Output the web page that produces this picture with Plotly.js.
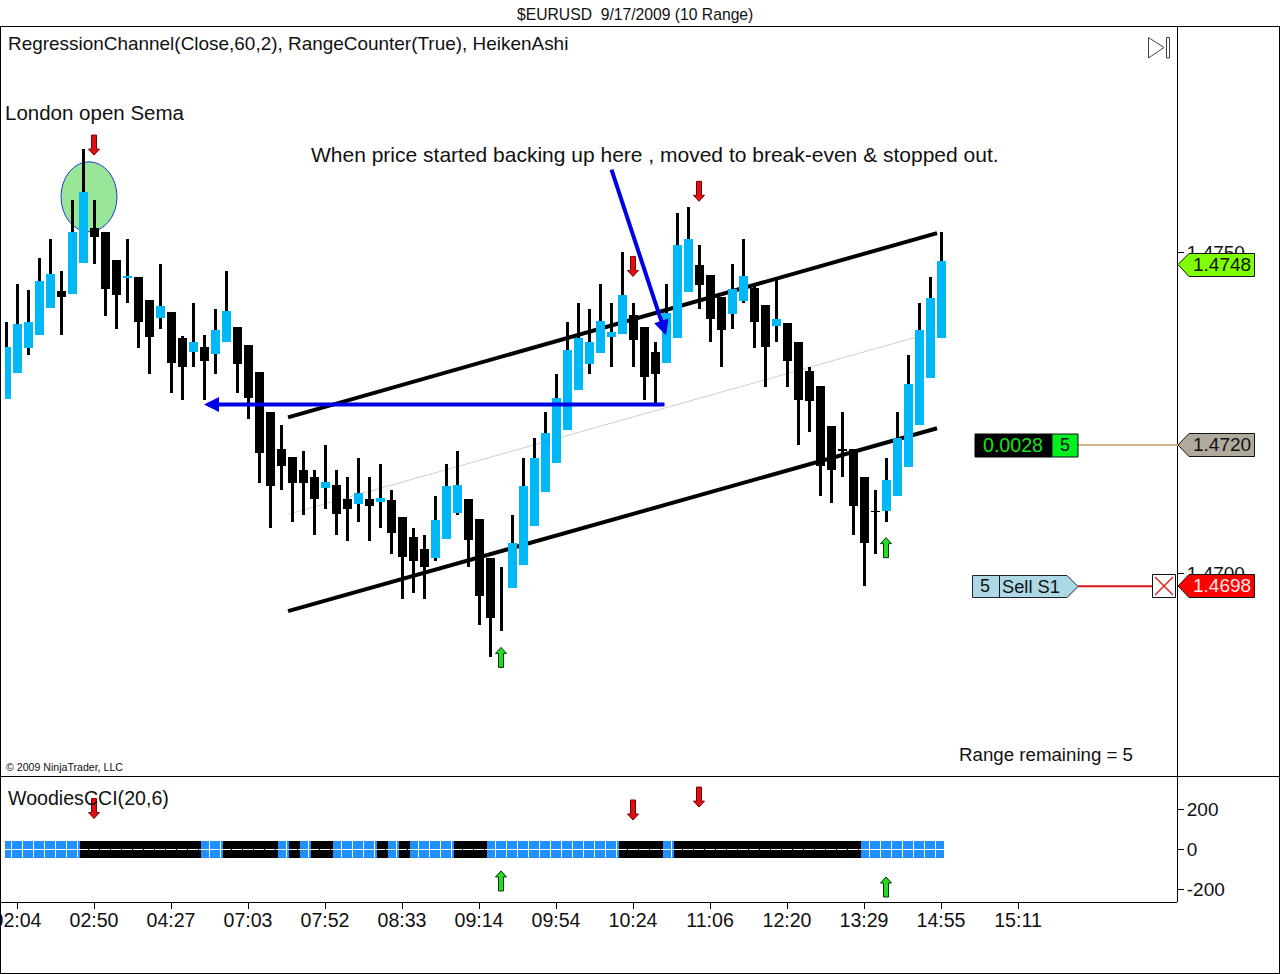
<!DOCTYPE html>
<html><head><meta charset="utf-8">
<script src="https://cdn.plot.ly/plotly-3.0.1.min.js"></script>
<style>html,body{margin:0;padding:0;background:#fff;overflow:hidden}#c{width:1280px;height:974px}</style>
</head><body><div id="c"></div>
<script>
var tickLabels = ["02:04","02:50","04:27","07:03","07:52","08:33","09:14","09:54","10:24","11:06","12:20","13:29","14:55","15:11"];
var tickBars = [1,8,15,22,29,36,43,50,57,64,71,78,85,92];
var opens = [1.47272,1.47312,1.47351,1.47371,1.47413,1.47440,1.47435,1.47483,1.47538,1.47532,
1.47488,1.47460,1.47461,1.47426,1.47398,1.47407,1.47366,1.47345,1.47352,1.47342,
1.47360,1.47384,1.47356,1.47314,1.47251,1.47194,1.47181,1.47161,1.47150,1.47133,
1.47138,1.47116,1.47108,1.47116,1.47111,1.47114,1.47088,1.47057,1.47038,1.47024,
1.47054,1.47094,1.47116,1.47085,1.47024,1.46960,1.46977,1.47013,1.47074,1.47127,
1.47172,1.47223,1.47285,1.47326,1.47343,1.47368,1.47373,1.47402,1.47384,1.47345,
1.47328,1.47366,1.47438,1.47480,1.47465,1.47430,1.47404,1.47424,1.47444,1.47418,
1.47385,1.47390,1.47360,1.47315,1.47292,1.47229,1.47194,1.47194,1.47150,1.47097,
1.47097,1.47120,1.47166,1.47231,1.47304,1.47366];
var closes = [1.47352,1.47388,1.47391,1.47455,1.47466,1.47430,1.47532,1.47594,1.47524,1.47443,
1.47433,1.47463,1.47391,1.47368,1.47416,1.47328,1.47321,1.47360,1.47331,1.47379,
1.47409,1.47326,1.47273,1.47187,1.47136,1.47167,1.47141,1.47141,1.47116,1.47142,
1.47092,1.47100,1.47125,1.47105,1.47117,1.47063,1.47025,1.47019,1.47010,1.47083,
1.47136,1.47138,1.47052,1.46965,1.46930,1.46960,1.47047,1.47136,1.47180,1.47219,
1.47273,1.47348,1.47366,1.47360,1.47393,1.47376,1.47433,1.47363,1.47306,1.47310,
1.47405,1.47511,1.47521,1.47449,1.47396,1.47379,1.47443,1.47463,1.47391,1.47352,
1.47396,1.47331,1.47270,1.47268,1.47167,1.47161,1.47192,1.47105,1.47047,1.47096,
1.47145,1.47211,1.47295,1.47379,1.47429,1.47486];
var highs = [1.47391,1.47451,1.47441,1.47491,1.47521,1.47471,1.47581,1.47661,1.47581,1.47532,
1.47488,1.47521,1.47461,1.47426,1.47482,1.47407,1.47370,1.47421,1.47371,1.47412,
1.47471,1.47384,1.47356,1.47314,1.47251,1.47231,1.47181,1.47191,1.47161,1.47200,
1.47161,1.47150,1.47180,1.47150,1.47170,1.47130,1.47088,1.47071,1.47060,1.47120,
1.47170,1.47191,1.47116,1.47085,1.47024,1.47010,1.47091,1.47180,1.47211,1.47251,
1.47310,1.47391,1.47421,1.47412,1.47451,1.47421,1.47500,1.47421,1.47384,1.47360,
1.47451,1.47561,1.47571,1.47511,1.47465,1.47430,1.47482,1.47521,1.47451,1.47418,
1.47457,1.47390,1.47360,1.47321,1.47292,1.47229,1.47251,1.47194,1.47150,1.47130,
1.47180,1.47251,1.47340,1.47421,1.47461,1.47532];
var lows = [1.47272,1.47312,1.47340,1.47371,1.47413,1.47371,1.47435,1.47483,1.47482,1.47401,
1.47381,1.47421,1.47351,1.47310,1.47381,1.47281,1.47270,1.47321,1.47270,1.47310,
1.47360,1.47281,1.47240,1.47141,1.47071,1.47130,1.47080,1.47091,1.47060,1.47100,
1.47060,1.47050,1.47080,1.47050,1.47071,1.47030,1.46960,1.46969,1.46960,1.47019,
1.47054,1.47091,1.47010,1.46920,1.46870,1.46910,1.46977,1.47013,1.47074,1.47127,
1.47172,1.47223,1.47285,1.47310,1.47343,1.47321,1.47373,1.47321,1.47270,1.47265,
1.47328,1.47366,1.47438,1.47412,1.47360,1.47321,1.47381,1.47421,1.47351,1.47290,
1.47360,1.47290,1.47200,1.47220,1.47120,1.47110,1.47150,1.47060,1.46980,1.47030,
1.47080,1.47120,1.47166,1.47231,1.47304,1.47366];
var cciSign = [1,1,1,1,1,1,1,-1,-1,-1,-1,-1,-1,-1,-1,-1,-1,-1,1,1,-1,-1,-1,-1,-1,1,-1,1,-1,-1,
1,1,1,1,-1,1,-1,1,1,1,1,-1,-1,-1,1,1,1,1,1,1,1,1,1,1,1,1,-1,-1,-1,-1,
1,-1,-1,-1,-1,-1,-1,-1,-1,-1,-1,-1,-1,-1,-1,-1,-1,-1,1,1,1,1,1,1,1,1];
var channelBars = [25.64,84.64];
var channelUpper = [1.47243,1.47530];
var channelMiddle = [1.47092,1.47377];
var channelLower = [1.46941,1.47226];
var downBars = [8,57,63], downPrices = [1.47667,1.47478,1.47595], downCci = [203,196,260];
var upBars = [45,80], upPrices = [1.46869,1.47040], upCci = [-156,-186];
var lastPrice = 1.4748, avgPrice = 1.4720, stopPrice = 1.4698;

var W=1280,H=974,FONT='"Liberation Sans", Arial, sans-serif';
var BLUE='#00b7f7', CCIBLUE='#1e90ff';
var idx = opens.map(function(_,i){return i;});
var px = function(x){return x/W;}, py = function(y){return 1-y/H;};
function pxPath(pts){return 'M'+pts.map(function(p){return px(p[0])+','+py(p[1]);}).join('L')+'Z';}
function poly(pts,fill,line,lw){return {type:'path',xref:'paper',yref:'paper',path:pxPath(pts),fillcolor:fill,line:{color:line,width:lw==null?1:lw}};}
function hline(x0,x1,y,c,w){return {type:'line',xref:'paper',yref:'paper',x0:px(x0),x1:px(x1),y0:py(y),y1:py(y),line:{color:c,width:w||1}};}
function vline(x,y0,y1,c,w){return {type:'line',xref:'paper',yref:'paper',x0:px(x),x1:px(x),y0:py(y0),y1:py(y1),line:{color:c,width:w||1}};}
function txt(t,x,y,size,color,anchor){return {text:t,xref:'paper',yref:'paper',x:px(x),y:py(y),xanchor:anchor||'left',yanchor:'middle',showarrow:false,font:{family:FONT,size:size,color:color||'#111'},borderpad:0};}

var traces = [
 {type:'bar',x:idx,base:lows,y:idx.map(function(i){return highs[i]-lows[i];}),width:3/11,marker:{color:'#000',line:{width:0}},hoverinfo:'skip',xaxis:'x',yaxis:'y'},
 {type:'bar',x:idx,base:idx.map(function(i){return Math.min(opens[i],closes[i]);}),y:idx.map(function(i){return Math.abs(closes[i]-opens[i]);}),
  offset:idx.map(function(i){return i===0?-1/11:-4.5/11;}),width:idx.map(function(i){return i===0?6/11:9/11;}),
  marker:{color:idx.map(function(i){return closes[i]>opens[i]?BLUE:'#000';}),line:{width:0}},hoverinfo:'skip',xaxis:'x',yaxis:'y'},
 {type:'bar',x:idx,base:idx.map(function(){return -39.7;}),y:idx.map(function(){return 84.3;}),
  offset:idx.map(function(i){return i===0?-1/11:-3/11;}),width:idx.map(function(i){return i===0?9/11:(i===85?6/11:1);}),
  marker:{color:cciSign.map(function(s){return s>0?CCIBLUE:'#000';}),line:{width:0}},hoverinfo:'skip',xaxis:'x',yaxis:'y2'}
];
var crossX=[],crossY=[];
idx.forEach(function(i){
  crossX.push(i===0?i-1/11:i-0.45, i===85?i+3/11:i+0.45, null); crossY.push(0,0,null);
  if(cciSign[i]>0&&i<85){crossX.push(i+0.5,i+0.5,null);crossY.push(-39.7,44.6,null);}
});
traces.push({type:'scatter',mode:'lines',x:crossX,y:crossY,connectgaps:false,line:{color:'#fff',width:1},hoverinfo:'skip',xaxis:'x',yaxis:'y2'});

var downPath='M-2.5,10L2.5,10L2.5,-4L5.5,-4L0,-10L-5.5,-4L-2.5,-4Z';
var upPath='M-2.5,-10L2.5,-10L2.5,4L5.5,4L0,10L-5.5,4L-2.5,4Z';
function sig(path,bar,val,yref,fill,line){return {type:'path',xref:'x',yref:yref,xsizemode:'pixel',ysizemode:'pixel',xanchor:bar,yanchor:val,path:path,fillcolor:fill,line:{color:line,width:1}};}

var shapes = [
 {type:'circle',xref:'x',yref:'y',x0:5,x1:10.09,y0:1.47532,y1:1.47641,fillcolor:'#99e699',line:{color:'#1a3ad0',width:1},layer:'below'},
 {type:'line',xref:'x',yref:'y',x0:channelBars[0],x1:channelBars[1],y0:channelMiddle[0],y1:channelMiddle[1],line:{color:'#cfcfcf',width:1},layer:'below'},
 {type:'line',xref:'x',yref:'y',x0:channelBars[0],x1:channelBars[1],y0:channelUpper[0],y1:channelUpper[1],line:{color:'#000',width:4},layer:'below'},
 {type:'line',xref:'x',yref:'y',x0:channelBars[0],x1:channelBars[1],y0:channelLower[0],y1:channelLower[1],line:{color:'#000',width:4},layer:'below'}
];
downBars.forEach(function(b,i){shapes.push(sig(downPath,b,downPrices[i],'y','#dd1111','#7a0000'));shapes.push(sig(downPath,b,downCci[i],'y2','#dd1111','#7a0000'));});
upBars.forEach(function(b,i){shapes.push(sig(upPath,b,upPrices[i],'y','#22dd22','#003300'));shapes.push(sig(upPath,b,upCci[i],'y2','#22dd22','#003300'));});

shapes = shapes.concat([
 hline(0,1280,26.5,'#000'),hline(0,1280,776.5,'#000'),hline(0,1177,902.5,'#000'),hline(0,1280,973.5,'#000'),
 vline(0.5,26,974,'#000'),vline(1279.5,26,974,'#000'),vline(1177.5,26,902,'#000'),
 poly([[1148.5,37.5],[1164,47.5],[1148.5,58]],'rgba(0,0,0,0)','#444'),
 poly([[1166.5,37.5],[1169.5,37.5],[1169.5,58],[1166.5,58]],'rgba(0,0,0,0)','#444'),
 {type:'line',xref:'paper',yref:'y',x0:px(1078),x1:px(1178),y0:avgPrice,y1:avgPrice,line:{color:'#d2b48c',width:2}},
 {type:'line',xref:'paper',yref:'y',x0:px(1078),x1:px(1152),y0:stopPrice,y1:stopPrice,line:{color:'#d81818',width:2}},
 poly([[1178,264.5],[1189,253.5],[1254.5,253.5],[1254.5,276.5],[1189,276.5]],'#7fff00','#111'),
 poly([[1178,445],[1189,433.5],[1254.5,433.5],[1254.5,456.5],[1189,456.5]],'#b0aa9c','#111'),
 poly([[1178,586],[1189,574.5],[1254.5,574.5],[1254.5,597.5],[1189,597.5]],'#ff0000','#111'),
 poly([[975,434],[1052,434],[1052,457],[975,457]],'#000','#000'),
 poly([[1052,434],[1078,434],[1078,457],[1052,457]],'#00f020','#111'),
 poly([[972.5,575.5],[1067,575.5],[1078,586.5],[1067,597.5],[972.5,597.5]],'#add8e6','#223'),
 vline(999.5,575.5,597.5,'#111'),
 poly([[1152.5,574.5],[1175.5,574.5],[1175.5,597.5],[1152.5,597.5]],'#fff','#111'),
 {type:'line',xref:'paper',yref:'paper',x0:px(1155),x1:px(1173),y0:py(577),y1:py(595),line:{color:'#e02020',width:1.5}},
 {type:'line',xref:'paper',yref:'paper',x0:px(1155),x1:px(1173),y0:py(595),y1:py(577),line:{color:'#e02020',width:1.5}}
]);

function arrow(tailBar,tailPrice,headBar,headPrice){return {xref:'x',yref:'y',axref:'x',ayref:'y',x:headBar,y:headPrice,ax:tailBar,ay:tailPrice,text:'',showarrow:true,arrowhead:2,arrowsize:0.75,arrowwidth:4,arrowcolor:'#0000e6',standoff:0,startstandoff:0};}

var annotations = [
 txt('$EURUSD&#160;&#160;9/17/2009 (10 Range)',635,14,15.7,'#111','center'),
 txt('RegressionChannel(Close,60,2),&#160;RangeCounter(True),&#160;HeikenAshi',7,43,18.95),
 txt('London open Sema',4,112,20.5),
 txt('When price started backing up here , moved to break-even &amp; stopped out.',310,155,21),
 txt('© 2009 NinjaTrader, LLC',5,767,10.6),
 txt('Range remaining = 5',958,754,18.7),
 txt('WoodiesCCI(20,6)',7,798,19.6),
 txt('1.4748',1192,264.5,19),
 txt('1.4720',1192,444.5,19),
 txt('1.4698',1192,585.5,19,'#ffe8e8'),
 txt('0.0028',982,445,19.6,'#18e018'),
 txt('5',1059,445,18,'#111'),
 txt('5',979,586,18,'#111'),
 txt('Sell S1',1001,586,18.3,'#111'),
 arrow(60,1.47263,18,1.47263),
 arrow(55,1.47631,60,1.47371)
];

var tf={family:FONT,size:19,color:'#111'};
var layout = {
 width:W,height:H,margin:{l:0,r:0,t:0,b:0},paper_bgcolor:'#fff',plot_bgcolor:'rgba(0,0,0,0)',showlegend:false,
 barmode:'overlay',bargap:0,
 font:{family:FONT,size:18,color:'#111'},
 xaxis:{domain:[px(1),px(1177)],range:[-5/11,(1177-6)/11],anchor:'y2',tickmode:'array',tickvals:tickBars,ticktext:tickLabels,ticks:'outside',ticklen:6,tickwidth:1,tickcolor:'#000',showgrid:false,zeroline:false,showline:false,ticklabeloverflow:'allow',ticklabelstandoff:-6,tickfont:{family:FONT,size:19.6,color:'#111'},fixedrange:true},
 yaxis:{domain:[py(776),py(26)],range:[1.466843,1.478525],side:'right',anchor:'x',tickmode:'array',tickvals:[1.47,1.475],ticktext:['1.4700','1.4750'],ticks:'outside',ticklen:6,tickwidth:1,tickcolor:'#000',showgrid:false,zeroline:false,showline:false,ticklabelstandoff:-1,tickfont:tf,fixedrange:true},
 yaxis2:{domain:[py(902),py(776)],range:[-260.4,364.6],side:'right',anchor:'x',tickmode:'array',tickvals:[-200,0,200],ticktext:['-200','0','200'],ticks:'outside',ticklen:6,tickwidth:1,tickcolor:'#000',showgrid:false,zeroline:false,showline:false,ticklabelstandoff:-1,tickfont:tf,fixedrange:true},
 shapes:shapes,annotations:annotations
};
Plotly.newPlot('c',traces,layout,{displayModeBar:false,responsive:false});
</script></body></html>
